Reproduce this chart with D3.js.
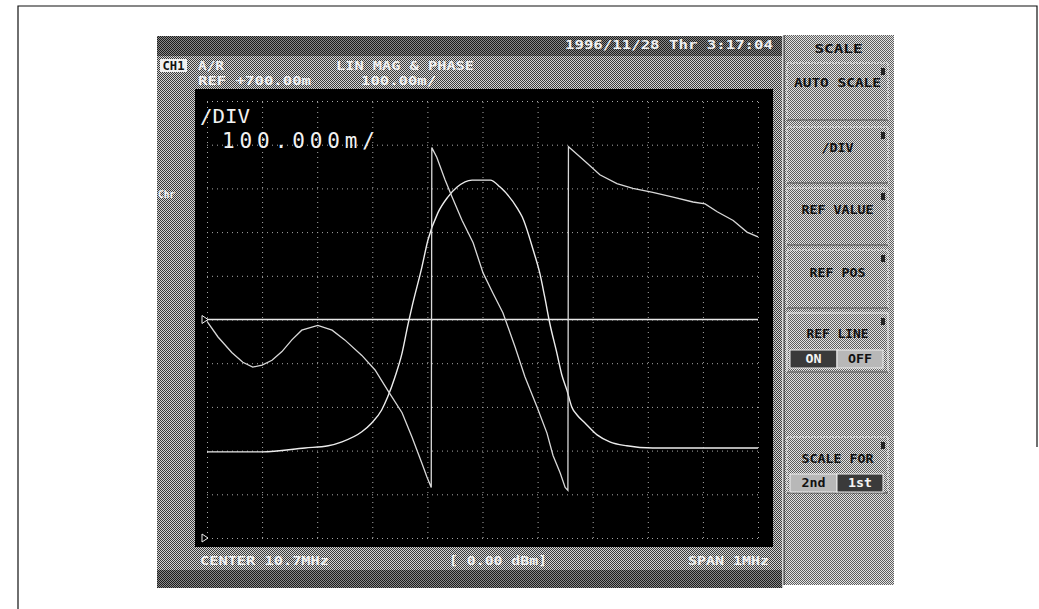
<!DOCTYPE html>
<html><head><meta charset="utf-8">
<script src="https://cdn.jsdelivr.net/npm/d3@7"></script>
<style>
html,body{margin:0;padding:0;background:#fff;}
svg{display:block;}
</style></head>
<body>
<script>
// ---- data ----
const freqTicks = [10.2,10.3,10.4,10.5,10.6,10.7,10.8,10.9,11.0,11.1,11.2];
const magTicks  = [0.2,0.3,0.4,0.5,0.6,0.7,0.8,0.9,1.0,1.1,1.2];
const refValue = 0.7;

const magFreq = [10.200,10.300,10.378,10.420,10.445,10.481,10.499,10.517,10.528,10.541,10.554,10.565,10.572,10.590,10.601,10.619,10.637,10.654,10.681,10.714,10.732,10.763,10.772,10.792,10.804,10.813,10.822,10.835,10.844,10.853,10.862,10.872,10.886,10.908,10.931,10.962,11.009,11.200];
const magValues = [0.397,0.397,0.406,0.411,0.420,0.443,0.463,0.493,0.523,0.568,0.623,0.690,0.729,0.820,0.882,0.944,0.980,1.003,1.019,1.019,1.003,0.955,0.935,0.859,0.806,0.751,0.692,0.623,0.573,0.539,0.500,0.481,0.463,0.436,0.420,0.411,0.406,0.406];

const phaseFreq = [10.200,10.220,10.245,10.265,10.283,10.300,10.318,10.336,10.354,10.372,10.401,10.427,10.450,10.481,10.505,10.528,10.554,10.572,10.590,10.599,10.607,10.608,10.617,10.632,10.645,10.663,10.683,10.701,10.719,10.737,10.759,10.777,10.799,10.817,10.828,10.841,10.850,10.855,10.856,10.868,10.890,10.913,10.944,10.973,11.009,11.046,11.082,11.104,11.126,11.155,11.180,11.200];
const phaseValues = [-2,-18,-34,-44,-49,-47,-42,-33,-21,-11,-6,-11,-21,-37,-52,-73,-96,-121,-148,-162,-173,177,167,144,126,102,79,48,27,7,-28,-59,-90,-117,-140,-158,-173,-176,178,172,161,149,140,135,131,126,121,119,111,102,90,85];

const headerDate = "1996/11/28 Thr  3:17:04";
const headerChannel = "CH1";
const headerMeas = "A/R";
const headerFormat = "LIN MAG & PHASE";
const headerRef = "REF +700.00m";
const headerScale = "100.00m/";
const sideLabel = "Chr";
const divLabel = "/DIV";
const divValue = "100.000m/";
const footerCenter = "CENTER 10.7MHz";
const footerPower = "[ 0.00 dBm]";
const footerSpan = "SPAN 1MHz";
const menuTitle = "SCALE";
const menuItems = ["AUTO SCALE","/DIV","REF VALUE","REF POS","REF LINE","SCALE FOR"];
const toggles = [["ON","OFF"],["2nd","1st"]];

// ---- drawing ----
const W = 1039, H = 609;
const svg = d3.select("body").append("svg").attr("width",W).attr("height",H);
const defs = svg.append("defs");
function dither(id,c1,c2){
  const p = defs.append("pattern").attr("id",id).attr("width",2).attr("height",2).attr("patternUnits","userSpaceOnUse");
  p.append("rect").attr("width",2).attr("height",2).attr("fill",c1);
  p.append("rect").attr("x",0).attr("y",0).attr("width",1).attr("height",1).attr("fill",c2);
  p.append("rect").attr("x",1).attr("y",1).attr("width",1).attr("height",1).attr("fill",c2);
}
dither("dMid","#d4d4d4","#3a3a3a");
dither("dPanel","#e4e4e4","#5e5e5e");
dither("dDark","#8a8a8a","#1c1c1c");

// page frame
svg.append("path").attr("d","M18,609 L18,6 L1037,6 L1037,447")
  .attr("fill","none").attr("stroke","#111").attr("stroke-width",1.2);

// main screen
svg.append("rect").attr("x",157).attr("y",36).attr("width",626).attr("height",552).attr("fill","url(#dMid)");
svg.append("rect").attr("x",157).attr("y",36).attr("width",626).attr("height",20).attr("fill","url(#dDark)");
svg.append("rect").attr("x",157).attr("y",570).attr("width",626).attr("height",18).attr("fill","url(#dDark)");
svg.append("line").attr("x1",783).attr("x2",783).attr("y1",36).attr("y2",588).attr("stroke","#f4f4f4").attr("stroke-width",1.5);

// plot black area
svg.append("rect").attr("x",195).attr("y",89).attr("width",578).attr("height",458).attr("fill","#000");

const x = d3.scaleLinear().domain([10.2,11.2]).range([207,758]);
const yMag = d3.scaleLinear().domain([0.2,1.2]).range([538,101]);
const yPh = d3.scaleLinear().domain([-225,225]).range([538,101]);

// grid
const grid = svg.append("g");
grid.append("g").attr("transform",`translate(0,${yMag.range()[0]})`)
  .call(d3.axisBottom(x).tickValues(freqTicks).tickSize(-(yMag.range()[0]-yMag.range()[1])).tickFormat(""))
  .call(g=>g.select(".domain").remove());
grid.append("g").attr("transform",`translate(${x.range()[0]},0)`)
  .call(d3.axisLeft(yMag).tickValues(magTicks).tickSize(-(x.range()[1]-x.range()[0])).tickFormat(""))
  .call(g=>g.select(".domain").remove());
grid.selectAll("line").attr("stroke","#a8a8a8").attr("stroke-width",1).attr("stroke-dasharray","1,4");

// reference line
const yRef = yMag(refValue);
svg.append("line").attr("x1",x.range()[0]).attr("x2",x.range()[1]).attr("y1",yRef).attr("y2",yRef)
  .attr("stroke","#e6e6e6").attr("stroke-width",1.4);
function marker(yy){
  const x0 = x.range()[0];
  svg.append("path").attr("d",`M${x0-5},${yy-4} L${x0+1},${yy} L${x0-5},${yy+4} Z`)
    .attr("fill","none").attr("stroke","#eee").attr("stroke-width",1);
}
marker(yRef);
marker(yMag.range()[0]);

// traces
const magData = magFreq.map((f,i)=>[f,magValues[i]]);
const phData = phaseFreq.map((f,i)=>[f,phaseValues[i]]);
svg.append("path").datum(magData)
  .attr("d",d3.line().x(d=>x(d[0])).y(d=>yMag(d[1])).curve(d3.curveMonotoneX))
  .attr("fill","none").attr("stroke","#ececec").attr("stroke-width",1.4);
svg.append("path").datum(phData)
  .attr("d",d3.line().x(d=>x(d[0])).y(d=>yPh(d[1])).curve(d3.curveLinear))
  .attr("fill","none").attr("stroke","#d8d8d8").attr("stroke-width",1.3);

// overlay text
const mono = "'DejaVu Sans Mono', 'Liberation Mono', monospace";
svg.append("text").attr("x",200).attr("y",123).text(divLabel)
  .attr("font-family",mono).attr("font-size",20).attr("fill","#f2f2f2")
  .attr("textLength",50).attr("lengthAdjust","spacingAndGlyphs");
svg.append("text").attr("x",222).attr("y",148).text(divValue)
  .attr("font-family",mono).attr("font-size",21).attr("fill","#f2f2f2")
  .attr("textLength",153).attr("lengthAdjust","spacing");

// header text
function htext(s,xx,yy,len,anchor,fill,size,weight){
  const t = svg.append("text").attr("x",xx).attr("y",yy).text(s)
    .attr("font-family",mono).attr("font-size",size||12).attr("font-weight",weight||"bold")
    .attr("fill",fill||"#f0f0f0").attr("text-anchor",anchor||"start");
  if(len) t.attr("textLength",len).attr("lengthAdjust","spacingAndGlyphs");
  return t;
}
htext(headerDate,773,49,208,"end");
svg.append("rect").attr("x",160).attr("y",59).attr("width",27).attr("height",13).attr("fill","#f0f0f0");
htext(headerChannel,173.5,70,22,"middle","#111");
htext(headerMeas,198,70,26);
htext(headerFormat,336,70,138);
htext(headerRef,198,85,113);
htext(headerScale,361,85,75);
htext(sideLabel,158,198,17,"start","#f4f4f4",10);

// footer text
htext(footerCenter,200,565,129);
htext(footerPower,449,565,98);
htext(footerSpan,769,565,81,"end");

// menu panel
svg.append("rect").attr("x",784).attr("y",35).attr("width",110).attr("height",550).attr("fill","url(#dPanel)");
svg.append("line").attr("x1",784).attr("x2",784).attr("y1",35).attr("y2",585).attr("stroke","#222").attr("stroke-width",1);
htext(menuTitle,838.5,53,48,"middle","#111",12);
const boxes = [[63,120],[127,183],[188,245],[250,308],[313,372],[437,493]];
const labelY = [87,152,214,277,338,463];
const labelLen = [87,32,72,56,62,72];
boxes.forEach((b,i)=>{
  svg.append("rect").attr("x",787).attr("y",b[0]).attr("width",101).attr("height",b[1]-b[0])
    .attr("fill","none").attr("stroke","#f2f2f2").attr("stroke-width",1).attr("stroke-dasharray",i===4?"none":"2,1");
  svg.append("line").attr("x1",787).attr("x2",888).attr("y1",b[1]).attr("y2",b[1]).attr("stroke","#333");
  svg.append("rect").attr("x",881).attr("y",b[0]+5).attr("width",4).attr("height",7).attr("fill","#222");
  htext(menuItems[i],837.5,labelY[i],labelLen[i],"middle","#111",13);
});
const toggleY = [350,474];
toggles.forEach((tg,i)=>{
  const y0 = toggleY[i];
  const darkFirst = i===0;
  svg.append("rect").attr("x",790).attr("y",y0).attr("width",47).attr("height",18)
    .attr("fill",darkFirst?"#3a3a3a":"#b8b8b8").attr("stroke","#eee");
  svg.append("rect").attr("x",837).attr("y",y0).attr("width",46).attr("height",18)
    .attr("fill",darkFirst?"#b8b8b8":"#3a3a3a").attr("stroke","#eee");
  htext(tg[0],813.5,y0+13,tg[0].length*8,"middle",darkFirst?"#f4f4f4":"#111",12);
  htext(tg[1],860,y0+13,tg[1].length*8,"middle",darkFirst?"#111":"#f4f4f4",12);
});
</script>
</body></html>
